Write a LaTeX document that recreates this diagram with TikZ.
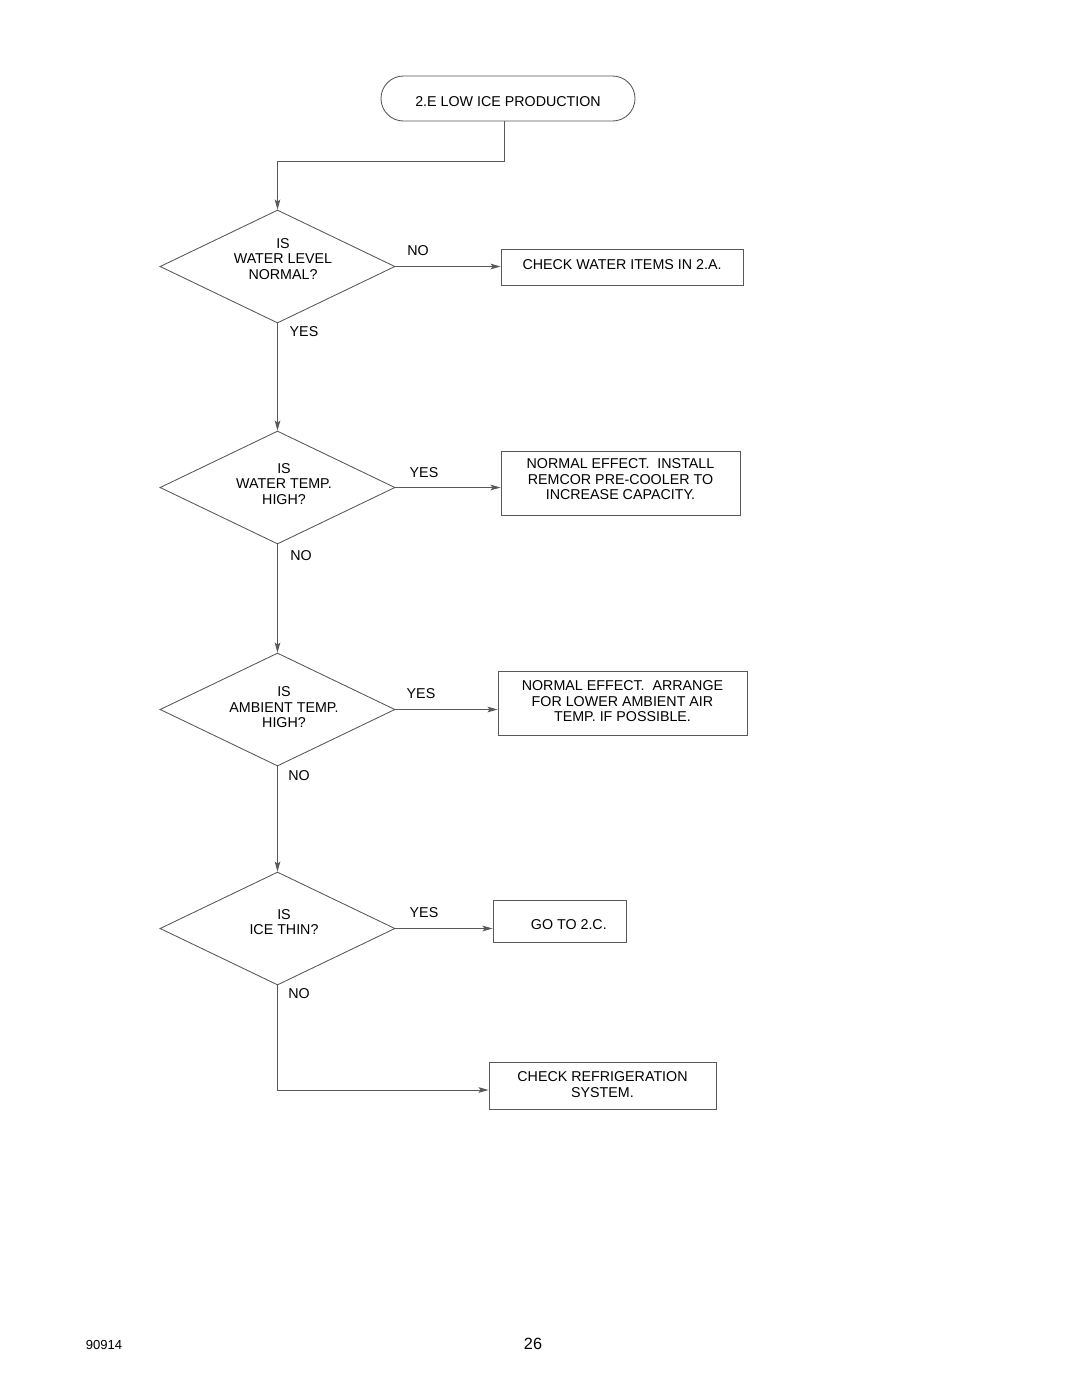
\documentclass[tikz,border=0pt]{standalone}
\usepackage{fontspec}
\setmainfont{Liberation Sans}
\usetikzlibrary{shapes.geometric,arrows.meta}
\newcommand{\mlines}[1]{\begin{tabular}{@{}c@{}}#1\end{tabular}}
\newcommand{\shiftt}[2]{\raisebox{#1}[0pt][0pt]{#2}}
\begin{document}
\begin{tikzpicture}[x=0.75pt,y=-0.75pt,
  every node/.style={font=\fontsize{10.7}{11.6}\selectfont, text=black},
  ln/.style={draw=black!65, line width=0.65pt},
  arr/.style={ln, -{Stealth[length=7.5pt,width=4.2pt,inset=1.5pt]}},
  dia/.style={shape=diamond, draw=black!65, line width=0.65pt, minimum width=176.25pt, minimum height=84.75pt, inner sep=0pt},
  qtext/.style={align=center, inner sep=0pt},
  boxx/.style={draw=black!65, line width=0.65pt, align=center, inner sep=0pt},
  lbl/.style={inner sep=0pt}
]
\useasboundingbox (0,0) rectangle (1080,1397);
\fill[white] (0,0) rectangle (1080,1397);

% start terminal
\node[boxx, rounded corners=16.8pt, minimum width=190.5pt, minimum height=33.75pt] (s) at (508,98.5) {\shiftt{-5.7pt}{2.E LOW ICE PRODUCTION}};

% diamonds
\node[dia] (d1) at (277.5,266.5) {};
\node[dia] (d2) at (277.5,487.5) {};
\node[dia] (d3) at (277.5,709.5) {};
\node[dia] (d4) at (277.5,928.5) {};

\node[qtext] (t1) at (283,259) {IS\\WATER LEVEL\\NORMAL?};
\node[qtext] (t2) at (284,484) {IS\\WATER TEMP.\\HIGH?};
\node[qtext] (t3) at (284,707.5) {IS\\AMBIENT TEMP.\\HIGH?};
\node[qtext] (t4) at (284,922) {IS\\ICE THIN?};

% boxes
\node[boxx, minimum width=181.5pt, minimum height=27pt] (b1) at (622,267) {\shiftt{-1.6pt}{CHECK WATER ITEMS IN 2.A.}};
\node[boxx, minimum width=179.25pt, minimum height=48pt] (b2) at (620.5,483) {\shiftt{-1.2pt}{\mlines{NORMAL EFFECT.\ \ INSTALL\\REMCOR PRE-COOLER TO\\INCREASE CAPACITY.}}};
\node[boxx, minimum width=186.75pt, minimum height=48pt] (b3) at (622.5,703) {\shiftt{-2.7pt}{\mlines{NORMAL EFFECT.\ \ ARRANGE\\FOR LOWER AMBIENT AIR\\TEMP. IF POSSIBLE.}}};
\node[boxx, minimum width=99.75pt, minimum height=31.5pt] (b4) at (559.5,921) {\hspace*{14pt}\shiftt{-6.1pt}{GO TO 2.C.}};
\node[boxx, minimum width=170.25pt, minimum height=35.25pt] (b5) at (602.5,1085.5) {\shiftt{-3.4pt}{\mlines{CHECK REFRIGERATION\\SYSTEM.}}};

% connectors
\coordinate (c1) at (504,161);
\draw[arr] (s.south -| c1) -- (c1) -| (d1.north);
\draw[arr] (d1.east) -- (d1.east -| b1.west);
\draw[arr] (d1.south) -- (d2.north);
\draw[arr] (d2.east) -- (d2.east -| b2.west);
\draw[arr] (d2.south) -- (d3.north);
\draw[arr] (d3.east) -- (d3.east -| b3.west);
\draw[arr] (d3.south) -- (d4.north);
\draw[arr] (d4.east) -- (d4.east -| b4.west);
\coordinate (c2) at (277.5,1090);
\draw[arr] (d4.south) -- (c2) -- (c2 -| b5.west);

% labels
\node[lbl] (l1) at (418,251) {NO};
\node[lbl] (l2) at (304,332) {YES};
\node[lbl] (l3) at (424,473) {YES};
\node[lbl] (l4) at (301,556) {NO};
\node[lbl] (l5) at (421,694) {YES};
\node[lbl] (l6) at (299,776) {NO};
\node[lbl] (l7) at (424,913) {YES};
\node[lbl] (l8) at (299,994) {NO};

% footer
\node[lbl, font=\fontsize{9.8}{11}\selectfont] (f1) at (104,1345) {90914};
\node[lbl, font=\fontsize{12.2}{14}\selectfont] (f2) at (533,1344) {26};
\end{tikzpicture}
\end{document}
